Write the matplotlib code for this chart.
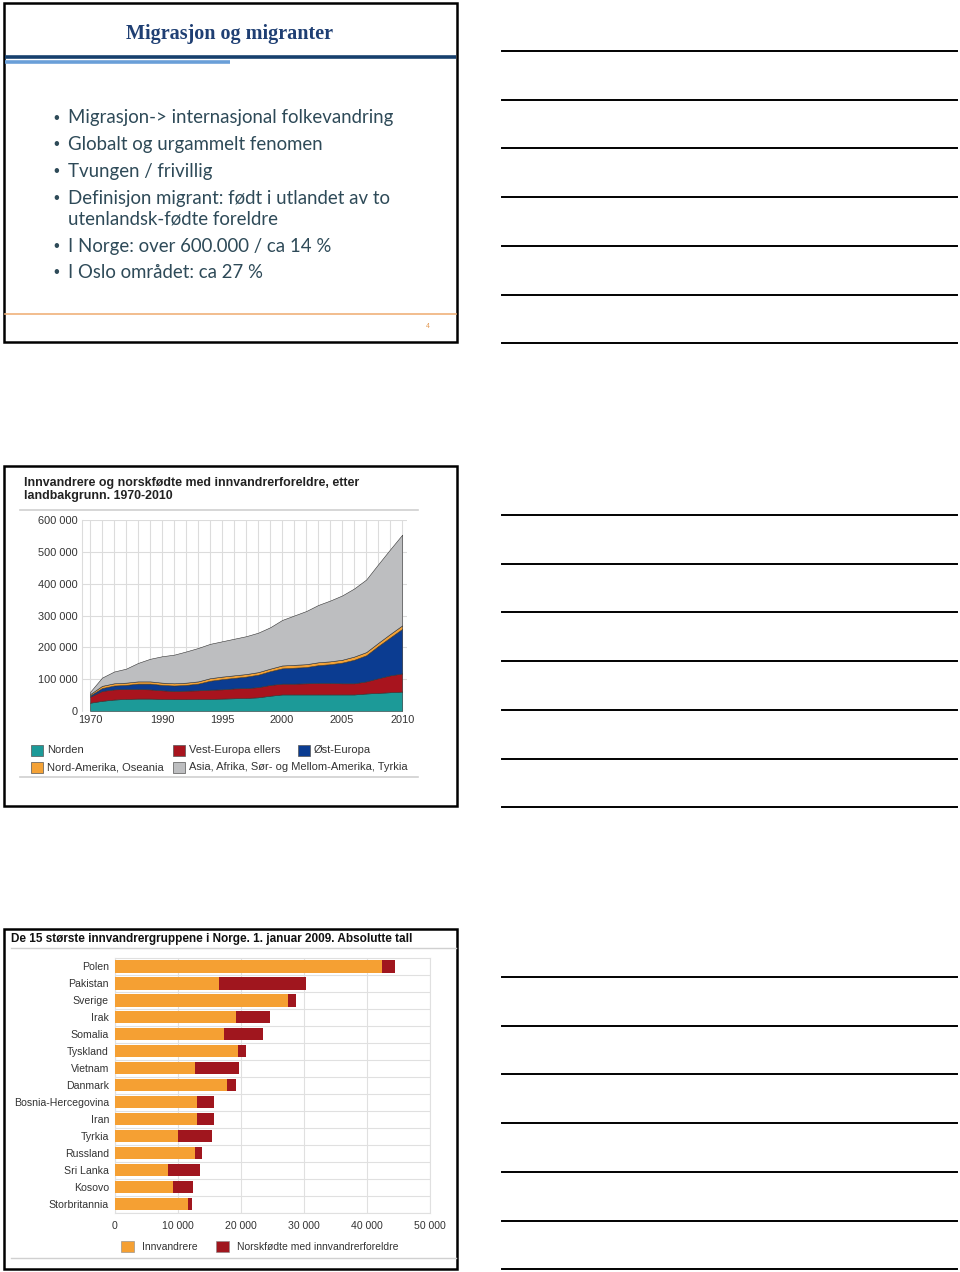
import numpy as np
import matplotlib.pyplot as plt
from matplotlib.patches import Rectangle
from matplotlib.ticker import FuncFormatter

W, H = 960, 1272
OUT = 'out.png'

# slide 1 text
SLIDE1_TITLE = 'Migrasjon og migranter'
BULLETS = [
    ['Migrasjon-> internasjonal folkevandring'],
    ['Globalt og urgammelt fenomen'],
    ['Tvungen / frivillig'],
    ['Definisjon migrant: født i utlandet av to', 'utenlandsk-fødte foreldre'],
    ['I Norge: over 600.000 / ca 14 %'],
    ['I Oslo området: ca 27 %'],
]

# slide 2: stacked area, thousands of persons
AREA_TITLE = 'Innvandrere og norskfødte med innvandrerforeldre, etter\nlandbakgrunn. 1970-2010'
YEARS = [1970, 1980, 1986, 1987, 1988, 1989, 1990, 1991, 1992, 1993, 1994,
         1995, 1996, 1997, 1998, 1999, 2000, 2001, 2002, 2003, 2004, 2005,
         2006, 2007, 2008, 2009, 2010]
YEAR_TICKS = [1970, 1990, 1995, 2000, 2005, 2010]
NORDEN = [26, 32, 36, 38, 39, 39, 38, 37, 37, 38, 38, 39, 40, 41, 43, 48, 52,
          52, 52, 52, 52, 52, 52, 55, 57, 59, 61]
VEST_EUROPA = [19, 31, 32, 31, 30, 29, 27, 26, 27, 27, 29, 29, 31, 31, 32, 34,
               34, 34, 35, 36, 36, 35, 35, 38, 46, 53, 57]
OST_EUROPA = [4, 9, 12, 13, 17, 18, 17, 17, 18, 21, 28, 32, 33, 36, 39, 43, 48,
              50, 51, 56, 59, 65, 74, 82, 101, 119, 140]
NORD_AMERIKA = [4, 7, 7, 7, 7, 7, 7, 7, 7, 7, 8, 8, 8, 8, 8, 8, 9, 9, 9, 9, 9,
                9, 10, 10, 10, 11, 11]
ASIA_AFRIKA = [7, 26, 37, 44, 58, 71, 83, 90, 98, 105, 108, 111, 115, 119, 124,
               130, 143, 155, 167, 180, 191, 202, 214, 228, 247, 266, 285]
AREA_NAMES = ['Norden', 'Vest-Europa ellers', 'Øst-Europa',
              'Nord-Amerika, Oseania', 'Asia, Afrika, Sør- og Mellom-Amerika, Tyrkia']
AREA_COLORS = ['#1c9a98', '#a8141e', '#0b3c91', '#f4a236', '#bdbec0']

# slide 3: 15 largest groups, 1 Jan 2009
BAR_TITLE = 'De 15 største innvandrergruppene i Norge. 1. januar 2009. Absolutte tall'
COUNTRIES = ['Polen', 'Pakistan', 'Sverige', 'Irak', 'Somalia', 'Tyskland',
             'Vietnam', 'Danmark', 'Bosnia-Hercegovina', 'Iran', 'Tyrkia',
             'Russland', 'Sri Lanka', 'Kosovo', 'Storbritannia']
INNVANDRERE = [42400, 16600, 27500, 19200, 17300, 19600, 12800, 17800, 13100,
               13000, 10100, 12700, 8500, 9200, 11600]
NORSKFODTE = [2100, 13700, 1200, 5400, 6300, 1300, 7000, 1500, 2600, 2700,
              5400, 1200, 5000, 3300, 700]
BAR_NAMES = ['Innvandrere', 'Norskfødte med innvandrerforeldre']
BAR_COLORS = ['#f5a033', '#a0161e']


def px_rect(x0, y0, x1, y1):
    return [x0 / W, 1 - y1 / H, (x1 - x0) / W, (y1 - y0) / H]


def space_thousands(v, pos=None):
    return f'{int(round(v)):,}'.replace(',', ' ')


def main():
    plt.rcParams['font.family'] = ['Liberation Sans', 'DejaVu Sans']
    fig = plt.figure(figsize=(W / 100, H / 100), dpi=100)

    # page overlay in pixel coordinates
    page = fig.add_axes([0, 0, 1, 1])
    page.set_xlim(0, W)
    page.set_ylim(H, 0)
    page.axis('off')

    for top, bottom in [(3, 342), (466, 806), (929, 1269)]:
        page.add_patch(Rectangle((4, top), 453, bottom - top, fill=False, ec='black', lw=1.8))

    # note lines to the right of every slide
    for base in [51, 515, 977]:
        for k in range(7):
            y = base + k * 48.7
            page.plot([502, 957], [y, y], color='black', lw=1.4)

    # --- slide 1
    page.text(230, 34, SLIDE1_TITLE, ha='center', va='center', fontsize=14.5,
              fontweight='bold', color='#1f3f73', family=['Liberation Serif'])
    page.plot([5, 456], [56.5, 56.5], color='#17406d', lw=2.6, solid_capstyle='butt')
    page.plot([5, 230], [61.5, 61.5], color='#6a9fd8', lw=2.6, solid_capstyle='butt')
    y = 118
    for lines in BULLETS:
        page.text(53, y, '•', ha='left', va='center', fontsize=12, color='#2e4a58')
        for k, line in enumerate(lines):
            page.text(68, y + 21 * k, line, ha='left', va='center', fontsize=13.4,
                      color='#2e4a58', family=['Lato', 'DejaVu Sans'])
        y += 21 * (len(lines) - 1) + 26.8
    page.plot([5, 456], [314, 314], color='#f0b27a', lw=1.2)
    page.text(428, 327, '4', ha='center', va='center', fontsize=5, color='#e39a55')

    # --- slide 2
    page.text(24, 477, AREA_TITLE, ha='left', va='top', fontsize=8.9,
              fontweight='bold', color='#222222', linespacing=1.1)
    page.plot([20, 418], [510, 510], color='#d0d0d0', lw=1.2)
    page.plot([20, 418], [777, 777], color='#d0d0d0', lw=1.2)

    ax = fig.add_axes(px_rect(82, 520, 407, 711))
    x = np.arange(len(YEARS))
    series = [np.array(s) * 1000 for s in [NORDEN, VEST_EUROPA, OST_EUROPA, NORD_AMERIKA, ASIA_AFRIKA]]
    ax.stackplot(x, *series, colors=AREA_COLORS, edgecolor='#333333', linewidth=0.4, zorder=3)
    ax.set_xlim(-0.67, len(YEARS) - 1 + 0.4)
    ax.set_ylim(0, 600000)
    ax.set_xticks(x, minor=True)
    ax.set_xticks([YEARS.index(y) for y in YEAR_TICKS])
    ax.set_xticklabels([str(y) for y in YEAR_TICKS])
    ax.set_yticks(np.arange(0, 600001, 100000))
    ax.yaxis.set_major_formatter(FuncFormatter(space_thousands))
    ax.grid(which='both', axis='x', color='#dcdcdc', lw=0.8, zorder=0)
    ax.grid(which='major', axis='y', color='#dcdcdc', lw=0.8, zorder=0)
    for s in ['top', 'right', 'bottom']:
        ax.spines[s].set_visible(False)
    ax.spines['left'].set_color('#dcdcdc')
    ax.tick_params(which='both', length=0, labelsize=7.9, colors='#333333', pad=3)
    ax.set_axisbelow(True)

    legend_pos = [(31, 750), (173, 750), (298, 750), (31, 767), (173, 767)]
    for (lx, ly), name, col in zip(legend_pos, AREA_NAMES, AREA_COLORS):
        page.add_patch(Rectangle((lx, ly - 5.5), 12, 11, fc=col, ec='#555555', lw=0.5))
        page.text(lx + 16, ly, name, ha='left', va='center', fontsize=8.0, color='#333333')

    # --- slide 3
    page.text(11, 939, BAR_TITLE, ha='left', va='center', fontsize=8.5,
              fontweight='bold', color='#111111')
    page.plot([11, 456], [948, 948], color='#d0d0d0', lw=1.0)
    page.plot([11, 456], [1258, 1258], color='#d0d0d0', lw=1.0)

    bx = fig.add_axes(px_rect(114.5, 958, 430, 1212.5))
    yy = np.arange(len(COUNTRIES))
    bx.barh(yy, INNVANDRERE, height=0.72, color=BAR_COLORS[0], zorder=3)
    bx.barh(yy, NORSKFODTE, left=INNVANDRERE, height=0.72, color=BAR_COLORS[1], zorder=3)
    bx.set_ylim(len(COUNTRIES) - 0.5, -0.5)
    bx.set_xlim(0, 50000)
    bx.set_yticks(yy)
    bx.set_yticklabels(COUNTRIES)
    bx.set_yticks(yy + 0.5, minor=True)
    bx.set_xticks(np.arange(0, 50001, 10000))
    bx.xaxis.set_major_formatter(FuncFormatter(space_thousands))
    bx.grid(which='major', axis='x', color='#e0e0e0', lw=0.8, zorder=0)
    bx.grid(which='minor', axis='y', color='#e0e0e0', lw=0.8, zorder=0)
    for s in bx.spines.values():
        s.set_color('#e0e0e0')
    bx.tick_params(which='both', length=0, labelsize=7.6, colors='#333333')
    bx.tick_params(axis='x', pad=6)
    bx.tick_params(axis='y', pad=4)

    for lx, name, col in zip([121, 216], BAR_NAMES, BAR_COLORS):
        page.add_patch(Rectangle((lx, 1241), 13, 11, fc=col, ec='#888888', lw=0.4))
        page.text(lx + 21, 1246.5, name, ha='left', va='center', fontsize=7.5, color='#333333')

    fig.savefig(OUT, dpi=100)


if __name__ == '__main__':
    main()
